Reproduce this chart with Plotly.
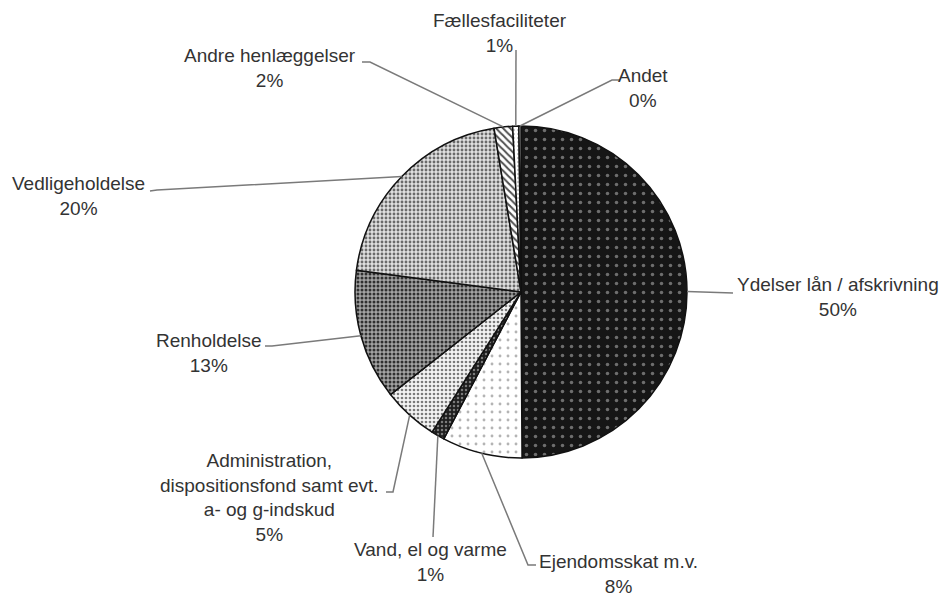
import math
import plotly.graph_objects as go

# ---- data ----
categories = [
    "Ydelser lån / afskrivning",
    "Ejendomsskat m.v.",
    "Vand, el og varme",
    "Administration,<br>dispositionsfond samt evt.<br>a- og g-indskud",
    "Renholdelse",
    "Vedligeholdelse",
    "Andre henlæggelser",
    "Fællesfaciliteter",
    "Andet",
]
values = [49.9, 7.8, 1.3, 5.4, 12.7, 20.3, 1.8, 0.6, 0.2]

# ---- styles ----
W, H = 942, 596
CX, CY, R = 521, 292, 166    # pie centre / radius in window pixels

patterns = [
    dict(shape=".", bgcolor="#161616", fgcolor="#6e6e6e", size=9, solidity=0.12),
    dict(shape=".", bgcolor="#ffffff", fgcolor="#b4b4b4", size=8, solidity=0.10),
    dict(shape=".", bgcolor="#1e1e1e", fgcolor="#7a7a7a", size=4, solidity=0.30),
    dict(shape=".", bgcolor="#f4f4f4", fgcolor="#7a7a7a", size=4, solidity=0.35),
    dict(shape=".", bgcolor="#a4a4a4", fgcolor="#303030", size=4, solidity=0.45),
    dict(shape=".", bgcolor="#e0e0e0", fgcolor="#6a6a6a", size=4, solidity=0.40),
    dict(shape="\\", bgcolor="#ffffff", fgcolor="#505050", size=5, solidity=0.4),
    dict(shape=".", bgcolor="#ffffff", fgcolor="#bbbbbb", size=4, solidity=0.2),
    dict(shape="", bgcolor="#ffffff", fgcolor="#ffffff", size=4, solidity=0.2),
]

# label layout: (elbow x, elbow y, end x, end y, text x, text y) in window pixels
label_layout = [
    (733, 293, 733, 293, 838, 297),
    (528, 565, 536, 565, 618, 574),
    (433, 537, 433, 537, 430, 562),
    (393, 492, 386, 492, 269, 497),
    (272, 346, 265, 346, 209, 353),
    (157, 190, 150, 191, 78, 196),
    (370, 62, 362, 62, 270, 68),
    (516, 50, 516, 50, 500, 33),
    (612, 80, 620, 80, 643, 88),
]


def px(x):
    return x / W


def py(y):
    return 1 - y / H


fig = go.Figure()
fig.add_trace(go.Pie(
    labels=categories,
    values=values,
    sort=False,
    direction="clockwise",
    rotation=0,
    textinfo="none",
    hoverinfo="label+percent",
    showlegend=False,
    marker=dict(
        colors=[p["bgcolor"] for p in patterns],
        line=dict(color="#111111", width=1.5),
        pattern=dict(
            shape=[p["shape"] for p in patterns],
            bgcolor=[p["bgcolor"] for p in patterns],
            fgcolor=[p["fgcolor"] for p in patterns],
            size=[p["size"] for p in patterns],
            solidity=[p["solidity"] for p in patterns],
        ),
    ),
    domain=dict(x=[px(CX - R), px(CX + R)], y=[py(CY + R), py(CY - R)]),
))

total = sum(values)
cum = 0.0
shapes = []
annotations = []
for name, v, lay in zip(categories, values, label_layout):
    mid = (cum + v / 2) / total * 2 * math.pi
    cum += v
    ex = CX + R * math.sin(mid)
    ey = CY - R * math.cos(mid)
    bx, by, tx, ty, lx, ly = lay
    path = f"M {px(ex)} {py(ey)} L {px(bx)} {py(by)} L {px(tx)} {py(ty)}"
    shapes.append(dict(type="path", path=path, xref="paper", yref="paper",
                       line=dict(color="#7a7a7a", width=1.5)))
    pct = round(v / total * 100)
    annotations.append(dict(
        x=px(lx), y=py(ly), xref="paper", yref="paper",
        text=f"{name}<br>{pct}%", showarrow=False,
        xanchor="center", yanchor="middle", align="center",
        font=dict(family="Liberation Sans, Arial, sans-serif", size=19, color="#333333"),
    ))

fig.update_layout(
    width=W, height=H,
    margin=dict(l=0, r=0, t=0, b=0),
    paper_bgcolor="white",
    plot_bgcolor="white",
    shapes=shapes,
    annotations=annotations,
)

fig.write_html(
    "out.html",
    config={"displayModeBar": False},
    post_script="document.body.style.margin='0';"
                "document.documentElement.style.overflow='hidden';",
)
